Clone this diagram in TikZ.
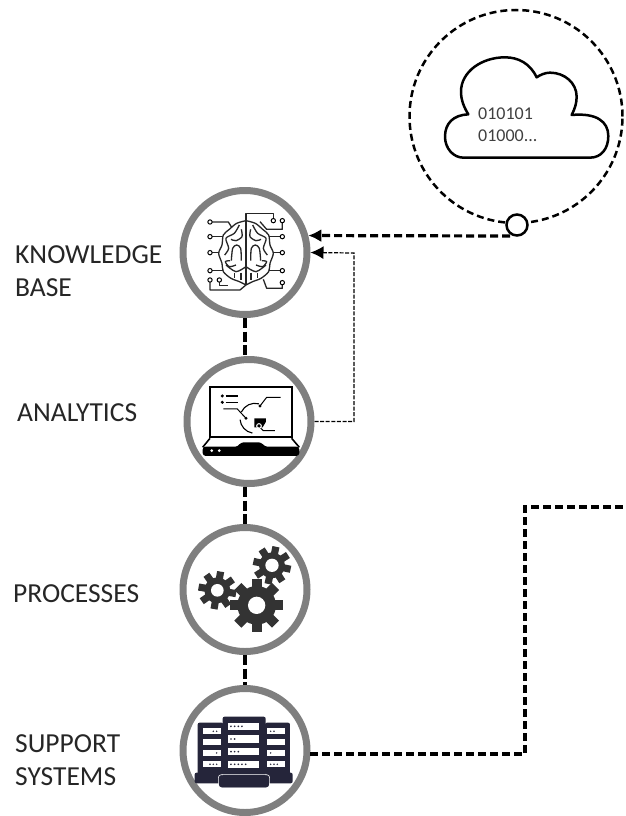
\documentclass[tikz,border=0pt]{standalone}
\usepackage{fontspec}
\setmainfont{Carlito}
\usetikzlibrary{arrows.meta}

\definecolor{ringgray}{HTML}{7F7F7F}
\definecolor{geargray}{HTML}{333333}
\definecolor{servernavy}{HTML}{25253A}
\definecolor{labelgray}{HTML}{262626}

\tikzset{
    ring/.style={circle, draw=ringgray, line width=7pt, fill=white, inner sep=0pt, minimum size=124pt},
    label text/.style={anchor=west, align=left, inner sep=0pt, text=labelgray, font=\fontsize{27.5}{33}\selectfont},
    link/.style={line width=3.2pt, dash pattern=on 8pt off 4pt},
    stem/.style={line width=3.5pt, dash pattern=on 10pt off 3.5pt},
    thin link/.style={line width=1.2pt, dash pattern=on 4pt off 1.6pt},
    head/.style={-{Latex[length=13pt,width=13pt]}},
    pad/.style={draw=black, line width=1pt, fill=white},
    trace/.style={draw=black!85, line width=1.3pt, line join=round},
}

% cx, cy, outer radius, body radius, hole radius, tooth rotation
\newcommand{\gearicon}[6]{
    \foreach \a in {0,45,...,315}
        \draw[geargray, line width=#3*0.125pt] (#1,#2) ++(\a+#6:#5) -- ++(\a+#6:#3-#5);
    \fill[geargray] (#1,#2) circle[radius=#4];
    \fill[white] (#1,#2) circle[radius=#5];
}

\begin{document}
\begin{tikzpicture}[x=1pt, y=-1pt]
    \useasboundingbox (0,0) rectangle (625,816);

    % Rings
    \node[ring] (base) at (245,252.5) {};
    \node[ring] (analytics) at (249,421.5) {};
    \node[ring] (processes) at (245,589.5) {};
    \node[ring] (support) at (245,750.5) {};

    % Cloud bubble
    \node[circle, draw, line width=2.5pt, dash pattern=on 7pt off 4pt, inner sep=0pt, minimum size=213pt] (bubble) at (516,116.5) {};
    \node[circle, draw, line width=2.5pt, fill=white, inner sep=0pt, minimum size=21pt] (hub) at (517,225) {};
    \coordinate (hubout) at (510,236);
    \coordinate (route) at (354,253);
    \coordinate (bend) at (525,507);
    \coordinate (offpage) at (625,507);

    % Labels
    \node[label text] (baselabel) at (15,271) {KNOWLEDGE\\BASE};
    \node[label text] (analyticslabel) at (17,413) {ANALYTICS};
    \node[label text] (processeslabel) at (13,594) {PROCESSES};
    \node[label text] (supportlabel) at (15,760) {SUPPORT\\SYSTEMS};
    \node[anchor=west, align=left, inner sep=0pt, text=black!75, font=\fontsize{18}{22}\selectfont] (bits) at (478,125) {010101\\01000...};

    % Connectors
    \draw[stem] (base) -- (base |- analytics.north);
    \draw[stem] (base |- analytics.south) -- (processes);
    \draw[stem] (processes) -- (support);
    \draw[link, head] (hubout) -- (base.15);
    \draw[thin link, head] (analytics.east) -| (route) -- (base.east);
    \draw[link] (support.-3) -| (bend) -- (offpage);

    % Cloud
    \begin{scope}[shift={(400,0)}, x=0.3333pt, y=-0.3333pt]
        \draw[line width=2.5pt, line join=round] (190,473) -- (570,473)
            .. controls (605,473) and (625,445) .. (625,408)
            .. controls (625,365) and (590,338) .. (515,345)
            .. controls (525,325) and (530,310) .. (530,290)
            .. controls (530,250) and (495,218) .. (450,218)
            .. controls (435,218) and (420,225) .. (410,232)
            .. controls (390,190) and (355,172) .. (315,172)
            .. controls (245,172) and (183,215) .. (183,275)
            .. controls (183,300) and (192,322) .. (205,343)
            .. controls (160,345) and (135,370) .. (135,410)
            .. controls (135,445) and (160,473) .. (190,473) -- cycle;
    \end{scope}

    % Brain and laptop
    \begin{scope}[shift={(160,170)}, x=0.3333pt, y=-0.3333pt]
        \foreach \s in {1,-1} {
            \begin{scope}[shift={(258,0)}, xscale=\s]
                \draw[trace] plot[smooth] coordinates {(0,152) (28,160) (50,178) (68,195) (72,225) (82,250) (72,280) (68,305) (45,325) (20,335) (0,345)};
                \draw[trace] plot[smooth] coordinates {(14,272) (16,235) (28,225) (40,235) (44,272)};
                \draw[trace] plot[smooth] coordinates {(0,290) (30,305) (60,285)};
                \draw[trace] plot[smooth] coordinates {(20,165) (35,190) (60,205) (52,235) (64,255)};
                \draw[trace] plot[smooth] coordinates {(48,272) (62,275) (50,290) (30,285)};
                \draw[trace] plot[smooth] coordinates {(14,178) (12,200) (30,212) (45,208)};
                \draw[trace] (15,308) -- (15,330);
                \draw[trace] (35,308) -- (35,325);
                \draw[trace] (70,200) -- (107,200) (80,248) -- (107,248) (70,302) -- (107,302);
            \end{scope}
        }
        \draw[trace] (258,152) -- (258,345);
        \draw[trace] (150,156) -- (205,156) -- (215,172);
        \draw[trace] (258,152) -- (258,130) -- (340,130) -- (340,150);
        \draw[trace] (300,155) -- (320,178) -- (367,178) -- (367,152);
        \draw[trace] (150,330) -- (150,360) -- (240,360) -- (258,345);
        \draw[trace] (178,330) -- (178,347) -- (205,347);
        \draw[trace] (367,338) -- (367,355) -- (320,355) -- (310,328);
        \foreach \px/\py in {150/156,150/200,150/248,150/302,150/330,178/330,340/152,367/152,367/200,367/248,367/302,367/338}
            \draw[pad] (\px,\py) circle[radius=6.5];

        % Laptop
        \draw[line width=2pt] (150,652) rectangle (395,802);
        \fill (187,678) circle[radius=5] (187,697) circle[radius=5];
        \draw[line width=1.5pt] (197,678) -- (233,678) (197,697) -- (233,697);
        \draw[line width=1pt] (190,717) -- (232,717) -- (258,745);
        \draw[line width=1pt] (362,682) -- (320,682) -- (300,708);
        \draw[line width=1pt] (345,782) -- (310,782) -- (295,768);
        \fill (258,745) circle[radius=5] (300,708) circle[radius=5];
        \draw[line width=1.1pt] (285,745) ++(205:45) arc[start angle=205, end angle=285, radius=45];
        \draw[line width=1.1pt] (285,745) ++(175:45) arc[start angle=175, end angle=100, radius=45];
        \fill (283,745) -- (318,745) -- (318,755) -- (308,772) -- (283,772) -- cycle;
        \draw[white, line width=1pt] (297,768) circle[radius=7];
        \draw[line width=1.6pt, line join=round] (150,805) -- (128,832) (395,805) -- (418,832);
        \fill[rounded corners=3pt] (128,830) -- (235,830) -- (242,817) -- (305,817) -- (313,830) -- (418,830) -- (418,858) -- (128,858) -- cycle;
        \fill[white] (155,842) circle[radius=4.5] (178,842) circle[radius=4.5];
    \end{scope}

    % Gears
    \begin{scope}[shift={(160,500)}, x=0.3333pt, y=-0.3333pt]
        \gearicon{290}{316}{80}{58}{26}{0}
        \gearicon{336}{196}{57}{39}{20}{12}
        \gearicon{172}{271}{57}{39}{19}{10}
    \end{scope}

    % Servers
    \begin{scope}[shift={(160,500)}, x=0.3333pt, y=-0.3333pt]
        \fill[servernavy, rounded corners=2pt] (113,668) rectangle (190,825);
        \fill[servernavy, rounded corners=2pt] (315,668) rectangle (390,825);
        \fill[servernavy, rounded corners=2pt] (104,818) rectangle (185,850);
        \fill[servernavy, rounded corners=2pt] (320,818) rectangle (398,850);
        \foreach \y/\n in {685/2,716/0,750/1,784/3} {
            \fill[white] (128,\y) rectangle (182,\y+18);
            \fill[white] (322,\y) rectangle (375,\y+18);
            \foreach \i in {1,...,\n} {
                \ifnum\n>0
                    \fill[servernavy] (180-\i*10,\y+9) circle[radius=2.5];
                    \fill[servernavy] (322+\i*10,\y+9) circle[radius=2.5];
                \fi
            }
        }
        \fill[servernavy, rounded corners=2pt] (188,650) rectangle (317,830);
        \foreach \y/\n in {668/4,706/2,744/3,782/5} {
            \fill[white] (205,\y) rectangle (298,\y+22);
            \foreach \i in {1,...,\n}
                \fill[servernavy] (202+\i*11,\y+11) circle[radius=2.8];
        }
        \draw[servernavy, fill=servernavy, rounded corners=3pt] (177,826) rectangle (327,862);
        \draw[white, line width=0.6pt, rounded corners=3pt] (175,824) rectangle (329,864);
    \end{scope}
\end{tikzpicture}
\end{document}
